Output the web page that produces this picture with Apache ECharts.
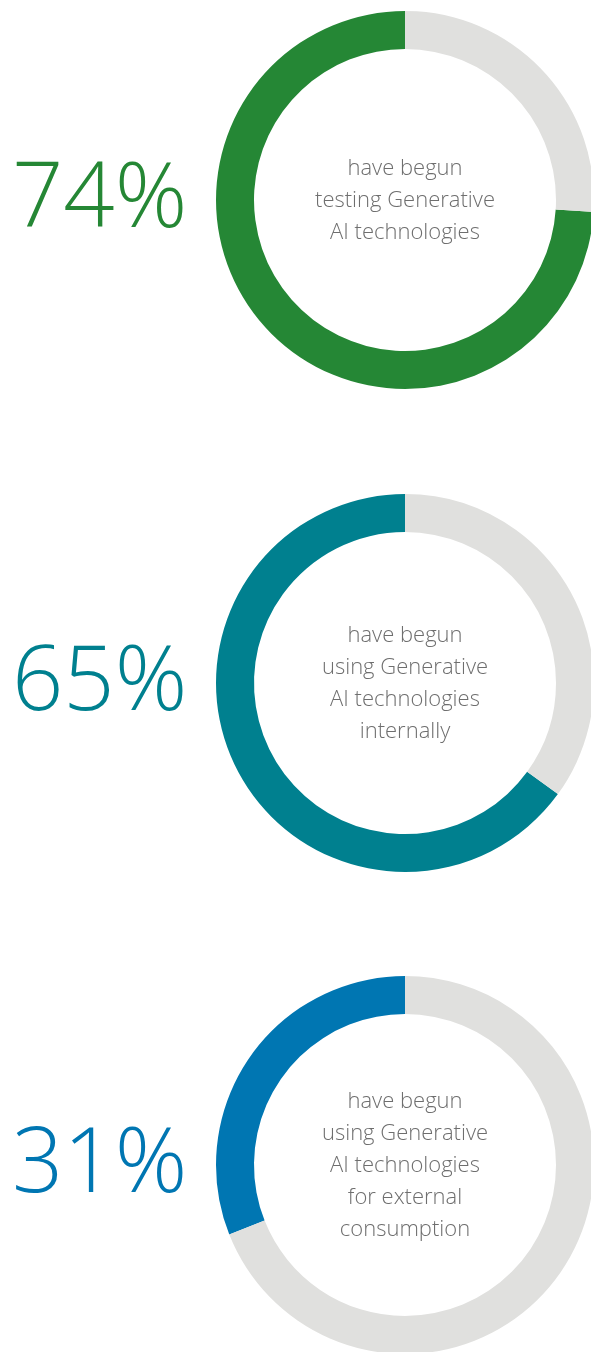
<!DOCTYPE html>
<html><head><meta charset="utf-8">
<script src="https://cdn.jsdelivr.net/npm/echarts@6/dist/echarts.min.js"></script>
<style>html,body{margin:0;padding:0;background:#fff}#c{width:591px;height:1352px}</style>
</head><body><div id="c"></div>
<script>
const values = [74, 65, 31];
const colors = ['#258735', '#00808f', '#0076b2'];
const captions = [
  ['have begun', 'testing Generative', 'AI technologies'],
  ['have begun', 'using Generative', 'AI technologies', 'internally'],
  ['have begun', 'using Generative', 'AI technologies', 'for external', 'consumption']
];
const centersY = [200, 683, 1165];
const cx = 405;
const font = '"Open Sans", sans-serif';

const chart = echarts.init(document.getElementById('c'), null, {renderer: 'canvas'});
const series = values.map((v, i) => ({
  type: 'pie',
  center: [cx, centersY[i]],
  radius: [151, 189],
  startAngle: 90,
  clockwise: false,
  silent: true,
  animation: false,
  label: {show: false},
  labelLine: {show: false},
  emphasis: {disabled: true},
  data: [
    {value: v, itemStyle: {color: colors[i]}},
    {value: 100 - v, itemStyle: {color: '#e0e0de'}}
  ]
}));
const graphic = [];
values.forEach((v, i) => {
  graphic.push({
    type: 'text', left: 12, top: centersY[i] - 44,
    style: {text: v + '%', fill: colors[i], font: '300 90px ' + font}
  });
  graphic.push({
    type: 'text', x: cx, y: centersY[i] + 1,
    style: {
      text: captions[i].join('\n'), fill: '#6e6e6e',
      font: '300 22px ' + font, lineHeight: 32,
      align: 'center', verticalAlign: 'middle'
    }
  });
});
chart.setOption({animation: false, series, graphic});
</script></body></html>
